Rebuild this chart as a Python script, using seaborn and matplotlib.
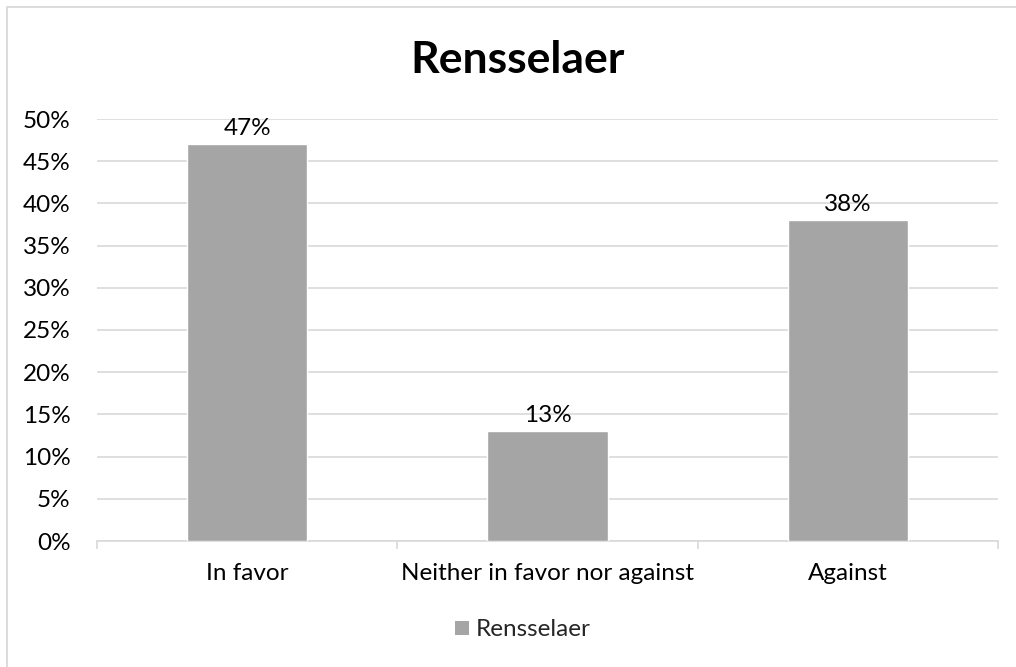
import matplotlib
matplotlib.use("Agg")
import matplotlib.pyplot as plt
from matplotlib.patches import Rectangle, Patch
from matplotlib.ticker import FixedLocator, PercentFormatter
import seaborn as sns
import pandas as pd

categories = ["In favor", "Neither in favor nor against", "Against"]
values = [0.47, 0.13, 0.38]
series_name = "Rensselaer"
yticks = [0, 0.05, 0.10, 0.15, 0.20, 0.25, 0.30, 0.35, 0.40, 0.45, 0.50]

bar_color = "#A5A5A5"
grid_color = "#D9D9D9"
text_color = "#000000"
label_size = 17.5

sns.set_theme(style="white")
plt.rcParams["font.family"] = ["Lato", "DejaVu Sans"]

df = pd.DataFrame({"category": categories, "share": values})

fig = plt.figure(figsize=(10.16, 6.67), dpi=100)
ax = fig.add_axes([97 / 1016, 1 - 541 / 667, (998 - 97) / 1016, (541 - 119) / 667])

# Outer chart frame
fig.patches.append(Rectangle((7 / 1016, -0.1), 1.2, (660 / 667) + 0.1,
                             transform=fig.transFigure, fill=False,
                             edgecolor="#D9D9D9", linewidth=1.3))

sns.barplot(data=df, x="category", y="share", color=bar_color, width=0.4,
            saturation=1, ax=ax, zorder=3)

ax.set_ylim(0, 0.5)
ax.set_xlim(-0.5, len(categories) - 0.5)
ax.yaxis.set_major_locator(FixedLocator(yticks))
ax.yaxis.set_major_formatter(PercentFormatter(1.0, decimals=0))
ax.grid(axis="y", color=grid_color, linewidth=1.2, zorder=0)
ax.set_axisbelow(True)

for side in ["left", "right", "top"]:
    ax.spines[side].set_visible(False)
ax.spines["bottom"].set_color(grid_color)
ax.spines["bottom"].set_linewidth(1.2)

ax.tick_params(axis="y", length=0, pad=19, labelsize=label_size, labelcolor=text_color)
ax.tick_params(axis="x", which="major", length=0, pad=16, labelsize=label_size,
               labelcolor=text_color)
ax.set_xticks([i - 0.5 for i in range(len(categories) + 1)], minor=True)
ax.tick_params(axis="x", which="minor", length=6, width=1.2, color=grid_color,
               direction="out", bottom=True)
ax.set_xlabel("")
ax.set_ylabel("")

for i, v in enumerate(values):
    ax.annotate(f"{v * 100:.0f}%", xy=(i, v), xytext=(0, 4),
                textcoords="offset points", ha="center", va="bottom",
                fontsize=label_size, color=text_color)

fig.text(518 / 1016, 1 - 60 / 667, "Rensselaer", ha="center", va="center",
         fontsize=32, fontweight="bold", color=text_color)

handle = Patch(facecolor=bar_color, edgecolor="none", label=series_name)
fig.legend(handles=[handle], loc="center", bbox_to_anchor=(523 / 1016, 1 - 630 / 667),
           frameon=False, fontsize=label_size, handlelength=0.55, handleheight=0.55,
           handletextpad=0.3, borderpad=0)

fig.savefig("out.png", dpi=100, facecolor="white")
